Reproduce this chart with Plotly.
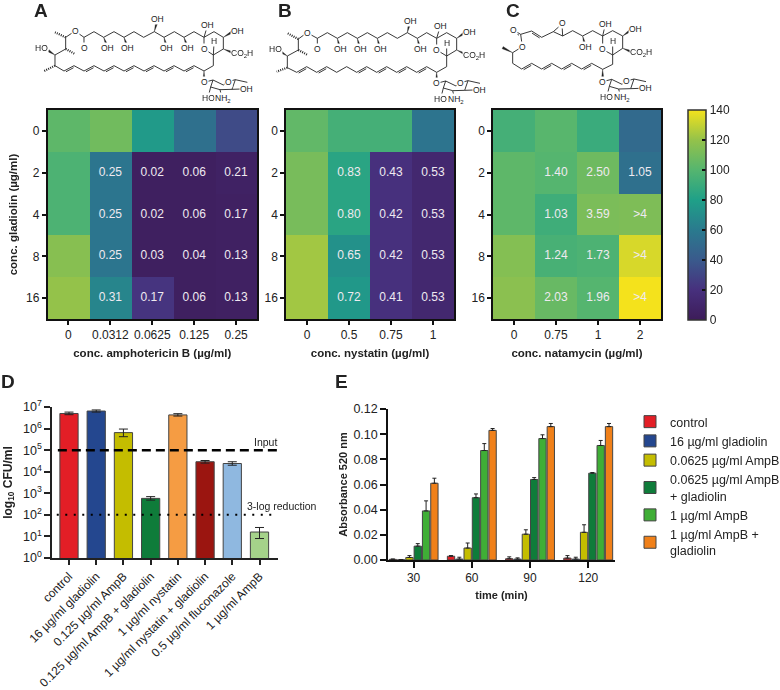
import plotly.graph_objects as go

FONT = "Liberation Sans, Arial, sans-serif"
W, H = 780, 690

gladiolin = ["0", "2", "4", "8", "16"]
amb_conc = ["0", "0.0312", "0.0625", "0.125", "0.25"]
nys_conc = ["0", "0.5", "0.75", "1"]
nat_conc = ["0", "0.75", "1", "2"]

amb_values = [[103, 109, 77, 54, 33],
              [97, 57, 4, 4, 6],
              [97, 57, 4, 4, 5],
              [116, 57, 4, 4, 5],
              [120, 66, 22, 4, 5]]
amb_text = [["", "", "", "", ""],
            ["", "0.25", "0.02", "0.06", "0.21"],
            ["", "0.25", "0.02", "0.06", "0.17"],
            ["", "0.25", "0.03", "0.04", "0.13"],
            ["", "0.31", "0.17", "0.06", "0.13"]]
nys_values = [[104, 94, 94, 56],
              [111, 84, 20, 12],
              [111, 84, 20, 12],
              [123, 72, 20, 12],
              [123, 76, 20, 12]]
nys_text = [["", "", "", ""],
            ["", "0.83", "0.43", "0.53"],
            ["", "0.80", "0.42", "0.53"],
            ["", "0.65", "0.42", "0.53"],
            ["", "0.72", "0.41", "0.53"]]
nat_values = [[94, 101, 90, 50],
              [103, 100, 108, 54],
              [103, 92, 112, 113],
              [115, 95, 97, 134],
              [117, 106, 100, 140]]
nat_text = [["", "", "", ""],
            ["", "1.40", "2.50", "1.05"],
            ["", "1.03", "3.59", ">4"],
            ["", "1.24", "1.73", ">4"],
            ["", "2.03", "1.96", ">4"]]

cfu_labels = ["control", "16 µg/ml gladiolin", "0.125 µg/ml AmpB", "0.125 µg/ml AmpB + gladiolin",
              "1 µg/ml nystatin", "1 µg/ml nystatin + gladiolin", "0.5 µg/ml fluconazole", "1 µg/ml AmpB"]
cfu_values = [5.0e6, 6.5e6, 6.5e5, 580, 4.3e6, 2.9e4, 2.4e4, 16]
cfu_err_up = [0.8e6, 0.8e6, 3.0e5, 120, 0.6e6, 0.4e4, 0.5e4, 10]
cfu_err_down = [0.6e6, 0.7e6, 2.3e5, 100, 0.5e6, 0.4e4, 0.4e4, 8]
cfu_colors = ["#e31e26", "#24478f", "#c4bd00", "#0f7c3a", "#f59c43", "#9b1510", "#8fb8e0", "#a5d28a"]
input_level = 1e5
reduction_level = 1e2

times = ["30", "60", "90", "120"]
abs_series = ["control", "16 µg/ml gladiolin", "0.0625 µg/ml AmpB", "0.0625 µg/ml AmpB<br>+ gladiolin",
              "1 µg/ml AmpB", "1 µg/ml AmpB +<br>gladiolin"]
abs_colors = ["#e31e26", "#24478f", "#c4bd00", "#0f7c3a", "#3fae36", "#f08019"]
abs_values = [[0.0005, 0.003, 0.001, 0.0015],
              [0.0002, 0.0007, 0.0007, 0.0007],
              [0.002, 0.0095, 0.0205, 0.022],
              [0.011, 0.0495, 0.064, 0.069],
              [0.039, 0.087, 0.0965, 0.091],
              [0.061, 0.103, 0.106, 0.106]]
abs_errors = [[0.0003, 0.0005, 0.0015, 0.002],
              [0.0002, 0.0015, 0.001, 0.0015],
              [0.0015, 0.004, 0.0035, 0.006],
              [0.002, 0.003, 0.0015, 0.0005],
              [0.008, 0.0055, 0.003, 0.004],
              [0.004, 0.0015, 0.0025, 0.0025]]

scale = [[0, "#3d1c59"], [20/140, "#47307d"], [40/140, "#3a5a8c"], [60/140, "#2a7a8e"],
         [80/140, "#1fa088"], [100/140, "#55b56f"], [120/140, "#94c24a"], [1, "#f4e21c"]]


def px_x(p0, p1):
    return [p0 / W, p1 / W]


def px_y(top, bottom):
    return [1 - bottom / H, 1 - top / H]


fig = go.Figure()


def heat(idx, x, z, text, left, right, xtitle, ytitle=None):
    fig.add_trace(go.Heatmap(x=x, y=gladiolin, z=z, coloraxis="coloraxis", xgap=0, ygap=0,
                             xaxis=f"x{idx}", yaxis=f"y{idx}"))
    cells = [(x[c], gladiolin[r], text[r][c]) for r in range(len(gladiolin)) for c in range(len(x)) if text[r][c]]
    fig.add_trace(go.Scatter(x=[q[0] for q in cells], y=[q[1] for q in cells], text=[q[2] for q in cells],
                             mode="text", textposition="middle center", showlegend=False, hoverinfo="skip",
                             textfont=dict(family=FONT, size=12, color="#efeaf0"),
                             xaxis=f"x{idx}", yaxis=f"y{idx}"))
    common = dict(showline=True, linecolor="#111", linewidth=1.5, mirror=True, ticks="outside",
                  ticklen=4, tickwidth=1.5, tickcolor="#111", type="category", showgrid=False,
                  zeroline=False, tickangle=0, tickfont=dict(family=FONT, size=12, color="#222"),
                  categoryorder="array")
    fig.layout[f"xaxis{idx}"] = dict(domain=px_x(left, right), anchor=f"y{idx}", categoryarray=x,
                                     title=dict(text=f"<b>{xtitle}</b>", standoff=8,
                                                font=dict(family=FONT, size=11.5, color="#222")),
                                     **common)
    ya = dict(domain=px_y(110, 319), anchor=f"x{idx}", autorange="reversed", categoryarray=gladiolin, **common)
    if ytitle:
        ya["title"] = dict(text=f"<b>{ytitle}</b>", standoff=6,
                           font=dict(family=FONT, size=11.5, color="#222"))
    fig.layout[f"yaxis{idx}"] = ya


heat(1, amb_conc, amb_values, amb_text, 47.5, 257, "conc. amphotericin B (µg/ml)", "conc. gladiolin (µg/ml)")
heat(2, nys_conc, nys_values, nys_text, 286, 454, "conc. nystatin (µg/ml)")
heat(3, nat_conc, nat_values, nat_text, 493, 661, "conc. natamycin (µg/ml)")

fig.update_layout(coloraxis=dict(
    colorscale=scale, cmin=0, cmax=140,
    colorbar=dict(x=688 / W, xanchor="left", y=1 - 320 / H, yanchor="bottom",
                  len=210 / H, lenmode="fraction", thickness=18, thicknessmode="pixels", xpad=0, ypad=0,
                  tickvals=[0, 20, 40, 60, 80, 100, 120, 140], ticks="inside", ticklen=4, tickwidth=1.5,
                  tickcolor="#111", outlinecolor="#333", outlinewidth=1.5,
                  tickfont=dict(family=FONT, size=12, color="#222"))))

# Panel D
positions = list(range(len(cfu_labels)))
fig.add_trace(go.Bar(x=positions, y=cfu_values, marker=dict(color=cfu_colors, line=dict(color="#444", width=1)),
                     width=0.67, showlegend=False, xaxis="x4", yaxis="y4",
                     error_y=dict(type="data", symmetric=False, array=cfu_err_up, arrayminus=cfu_err_down,
                                  color="#222", thickness=1, width=4.5)))
fig.add_trace(go.Scatter(x=[-0.41, 7.72], y=[input_level, input_level], mode="lines", showlegend=False,
                         line=dict(color="#000", width=2.5, dash="9px,5px"), xaxis="x4", yaxis="y4", hoverinfo="skip",
                         cliponaxis=False))
fig.add_trace(go.Scatter(x=[-0.45, 7.65], y=[reduction_level, reduction_level], mode="lines", showlegend=False,
                         line=dict(color="#000", width=2, dash="2px,6.5px"), xaxis="x4", yaxis="y4", hoverinfo="skip",
                         cliponaxis=False))
fig.layout.xaxis4 = dict(domain=px_x(52, 278), anchor="y4", range=[-0.625, 7.68], tickvals=positions,
                         ticktext=cfu_labels, tickangle=-45, showline=True, linecolor="#222", linewidth=1.5,
                         ticks="outside", ticklen=5, tickwidth=1.5, tickcolor="#222", showgrid=False, zeroline=False,
                         tickfont=dict(family=FONT, size=12, color="#222"))
fig.layout.yaxis4 = dict(domain=px_y(407, 558), anchor="x4", type="log", range=[0, 7],
                         tickvals=[1, 10, 100, 1e3, 1e4, 1e5, 1e6, 1e7],
                         ticktext=[f"10<sup>{i}</sup>" for i in range(8)],
                         showline=True, linecolor="#222", linewidth=1.5, ticks="outside", ticklen=6, tickwidth=1.5,
                         tickcolor="#222", showgrid=False, zeroline=False,
                         tickfont=dict(family=FONT, size=12.5, color="#222"),
                         title=dict(text="<b>log<sub>10</sub> CFU/ml</b>", standoff=8,
                                    font=dict(family=FONT, size=12, color="#222")))

# Panel E
for name, color, vals, errs in zip(abs_series, abs_colors, abs_values, abs_errors):
    fig.add_trace(go.Bar(x=list(range(len(times))), y=vals, name=name,
                         marker=dict(color=color, line=dict(color="#444", width=1)),
                         error_y=dict(type="data", array=errs, symmetric=False, arrayminus=[0] * len(errs),
                                      color="#222", thickness=1, width=2),
                         xaxis="x5", yaxis="y5"))
fig.layout.xaxis5 = dict(domain=px_x(388, 615), anchor="y5", range=[-0.44, 3.46],
                         tickvals=list(range(len(times))), ticktext=times, showline=True, linecolor="#111",
                         linewidth=1.5, ticks="outside", ticklen=6, tickwidth=1.5, tickcolor="#111", showgrid=False,
                         zeroline=False, tickfont=dict(family=FONT, size=12, color="#222"),
                         title=dict(text="<b>time (min)</b>", standoff=7, font=dict(family=FONT, size=11, color="#222")))
fig.layout.yaxis5 = dict(domain=px_y(409, 560), anchor="x5", range=[0, 0.12], dtick=0.02, tickformat=".2f",
                         showline=True, linecolor="#111", linewidth=1.5, ticks="outside", ticklen=6, tickwidth=1.5,
                         tickcolor="#111", showgrid=False, zeroline=False,
                         tickfont=dict(family=FONT, size=12.5, color="#222"),
                         title=dict(text="<b>Absorbance 520 nm</b>", standoff=4, font=dict(family=FONT, size=11, color="#222")))

annotations = []
shapes = []


def note(px, py, text, size=11, bold=False, bg=None, color="#222"):
    d = dict(x=px / W, y=1 - py / H, xref="paper", yref="paper", showarrow=False,
             text=f"<b>{text}</b>" if bold else text,
             font=dict(family=FONT, size=size, color=color), xanchor="center", yanchor="middle", borderpad=0)
    if bg:
        d["bgcolor"] = bg
    annotations.append(d)


for label, px, py in [("A", 41, 11), ("B", 285, 11), ("C", 513, 11), ("D", 8, 382), ("E", 341, 382)]:
    note(px, py, label, size=19, bold=True, color="#222")
note(265, 442, "Input", size=10.5)
note(282, 506, "3-log reduction", size=10.5)


def path_shape(points, fill=False, width=0.9, dash=None):
    p = "M" + " L".join(f"{x/W:.5f},{1-y/H:.5f}" for x, y in points)
    if fill:
        p += " Z"
    s = dict(type="path", path=p, xref="paper", yref="paper", layer="above",
             line=dict(color="#222", width=width))
    if fill:
        s["fillcolor"] = "#222"
    if dash:
        s["line"]["dash"] = dash
    shapes.append(s)


def molecule(x0, y0, chains, doubles, wedges, hashes, labels, sugar):
    T = lambda q: (x0 + q[0] / 3, y0 + q[1] / 3)
    for ch in chains:
        path_shape([T(q) for q in ch])
    for a, b in doubles:
        ax, ay = T(a)
        bx, by = T(b)
        dx, dy = bx - ax, by - ay
        ln = (dx * dx + dy * dy) ** 0.5
        nx, ny = -dy / ln * 1.6, dx / ln * 1.6
        if ny < 0:
            nx, ny = -nx, -ny
        path_shape([(ax + nx + dx * .12, ay + ny + dy * .12), (bx + nx - dx * .12, by + ny - dy * .12)])
    for a, b in wedges:
        ax, ay = T(a)
        bx, by = T(b)
        dx, dy = bx - ax, by - ay
        ln = (dx * dx + dy * dy) ** 0.5
        nx, ny = -dy / ln * 1.2, dx / ln * 1.2
        path_shape([(ax, ay), (bx + nx, by + ny), (bx - nx, by - ny)], fill=True, width=0.3)
    for a, b in hashes:
        path_shape([T(a), T(b)], width=2.2, dash="1px,1.2px")
    ox, oy = sugar
    ring = [(ox + u, oy + v) for u, v in [(27, -7), (58, 8), (72, -2), (94, -8), (84, 21), (48, 22), (20, 14), (27, -7)]]
    path_shape([T(q) for q in ring])
    path_shape([T(q) for q in [(ox, oy), (ox + 27, oy - 7)]])
    path_shape([T(q) for q in [(ox + 94, oy - 8), (ox + 130, oy)]])
    path_shape([T(q) for q in [(ox + 84, oy + 21), (ox + 112, oy + 20)]])
    path_shape([T(q) for q in [(ox + 20, oy + 14), (ox + 14, oy + 38)]])
    path_shape([T(q) for q in [(ox + 48, oy + 22), (ox + 52, oy + 38)]])
    for q, t in labels + [((ox, oy), "O"), ((ox + 72, oy - 2), "O"), ((ox + 128, oy + 20), "OH"),
                           ((ox + 12, oy + 47), "HO"), ((ox + 58, oy + 48), "NH<sub>2</sub>")]:
        px, py = T(q)
        note(px, py, t, size=8.5, bg="white")


# Panel A structure
molecule(0, 0,
         [[(197, 112), (225, 93), (252, 112), (282, 95), (311, 112), (342, 95), (372, 112), (402, 95), (431, 112),
           (463, 95), (492, 112), (523, 95), (552, 112), (582, 95), (612, 112), (642, 95), (670, 112), (670, 147),
           (640, 165), (612, 147), (612, 112)],
          [(640, 165), (640, 197), (612, 213), (582, 197), (552, 213), (522, 197), (492, 213), (462, 197), (432, 213),
           (402, 197), (372, 213), (342, 197), (312, 213), (282, 197), (252, 213), (222, 197), (192, 213), (165, 197),
           (165, 165), (197, 147), (197, 112)],
          [(252, 112), (252, 140)], [(640, 165), (642, 130)], [(612, 112), (620, 85)]],
         [((192, 213), (222, 197)), ((252, 213), (282, 197)), ((312, 213), (342, 197)), ((372, 213), (402, 197)),
          ((432, 213), (462, 197)), ((492, 213), (522, 197)), ((552, 213), (582, 197))],
         [((311, 112), (320, 135)), ((372, 112), (380, 135)), ((463, 95), (470, 68)), ((492, 112), (498, 135)),
          ((552, 112), (560, 135)), ((670, 112), (695, 97)), ((670, 147), (698, 158)), ((612, 213), (612, 240)),
          ((165, 165), (145, 152))],
         [((165, 197), (133, 213)), ((197, 147), (225, 162)), ((197, 112), (165, 97))],
         [((225, 93), "O"), ((252, 145), "O"), ((322, 143), "OH"), ((382, 143), "OH"), ((472, 58), "OH"),
          ((500, 143), "OH"), ((562, 143), "OH"), ((622, 75), "OH"), ((712, 92), "OH"), ((612, 147), "O"),
          ((642, 123), "H"), ((726, 161), "CO<sub>2</sub>H"), ((125, 143), "HO")],
         (612, 247))

# Panel B structure
molecule(260, 0,
         [[(115, 117), (141, 98), (172, 115), (202, 98), (232, 115), (262, 98), (292, 115), (322, 98), (352, 115),
           (382, 98), (412, 115), (442, 98), (472, 115), (500, 98), (530, 115), (560, 98), (590, 115), (590, 150),
           (560, 168), (530, 150), (530, 115)],
          [(560, 168), (560, 200), (530, 217), (500, 200), (470, 217), (440, 200), (410, 217), (380, 200), (350, 217),
           (320, 200), (290, 217), (260, 200), (230, 217), (200, 200), (170, 217), (140, 200), (110, 217), (82, 203),
           (82, 168), (115, 150), (115, 117)],
          [(172, 115), (172, 140)], [(560, 168), (560, 135)], [(530, 115), (538, 88)]],
         [((110, 217), (140, 200)), ((170, 217), (200, 200)), ((290, 217), (320, 200)), ((350, 217), (380, 200)),
          ((410, 217), (440, 200)), ((470, 217), (500, 200))],
         [((232, 115), (238, 138)), ((292, 115), (298, 138)), ((352, 115), (358, 138)), ((442, 98), (448, 72)),
          ((472, 115), (478, 138)), ((590, 115), (612, 100)), ((590, 150), (615, 162)), ((530, 217), (530, 242)),
          ((82, 168), (62, 155))],
         [((82, 203), (50, 215)), ((115, 150), (143, 165)), ((115, 117), (83, 100))],
         [((141, 98), "O"), ((172, 148), "O"), ((240, 147), "OH"), ((300, 147), "OH"), ((360, 147), "OH"),
          ((450, 62), "OH"), ((480, 147), "OH"), ((540, 78), "OH"), ((628, 96), "OH"), ((530, 150), "O"),
          ((560, 128), "H"), ((643, 166), "CO<sub>2</sub>H"), ((45, 148), "HO")],
         (530, 250))

# Panel C structure
molecule(490, 0,
         [[(92, 103), (97, 140), (68, 158), (68, 190), (95, 207), (125, 190), (155, 207), (185, 190), (215, 207),
           (245, 190), (275, 207), (305, 190), (338, 208), (368, 193), (368, 165), (338, 148), (338, 108), (368, 92),
           (398, 108), (398, 145), (368, 165)],
          [(92, 103), (125, 93), (155, 112), (190, 95), (218, 108), (248, 92), (278, 108), (308, 92), (338, 108)],
          [(190, 95), (216, 72), (218, 108)], [(92, 103), (70, 90)], [(368, 165), (368, 130)], [(338, 108), (344, 82)]],
         [((92, 103), (70, 90)), ((125, 93), (155, 112)), ((95, 207), (125, 190)), ((155, 207), (185, 190)),
          ((215, 207), (245, 190)), ((275, 207), (305, 190))],
         [((68, 158), (38, 143)), ((278, 108), (284, 132)), ((398, 108), (420, 92)), ((398, 145), (423, 155)),
          ((338, 208), (338, 236))],
         [],
         [((97, 140), "O"), ((69, 89), "O"), ((217, 70), "O"), ((285, 141), "OH"), ((345, 72), "OH"), ((435, 88), "OH"),
          ((338, 148), "O"), ((368, 122), "H"), ((452, 158), "CO<sub>2</sub>H")],
         (338, 245))

fig.update_layout(template="none", width=W, height=H,
                  margin=dict(l=0, r=0, t=0, b=0, autoexpand=False), plot_bgcolor="white", paper_bgcolor="white",
                  font=dict(family=FONT, color="#222"), barmode="group", bargap=0.143, bargroupgap=0.12,
                  annotations=annotations, shapes=shapes,
                  legend=dict(x=630 / W, xanchor="left", y=1 - 407 / H, yanchor="top", traceorder="normal",
                              font=dict(family=FONT, size=12.5, color="#222"), tracegroupgap=0,
                              itemclick=False, itemdoubleclick=False, bgcolor="rgba(0,0,0,0)"))
fig.write_html("out.html", config=dict(displayModeBar=False),
               post_script="document.body.style.margin='0';"
                           "document.querySelectorAll('.infolayer').forEach(function(n){n.style.opacity='0.999';});")
